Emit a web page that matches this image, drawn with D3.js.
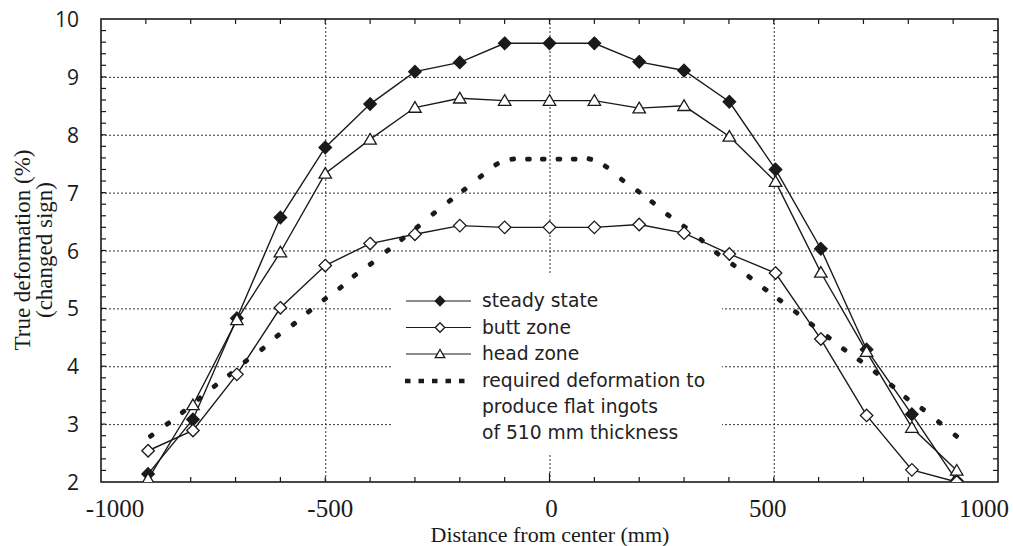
<!DOCTYPE html>
<html><head><meta charset="utf-8">
<script src="https://cdn.jsdelivr.net/npm/d3@7"></script>
<style>body{margin:0;background:#fff}</style>
</head><body><svg id="c" width="1013" height="546"></svg>
<script>
// ---- data ----
const positions   = [-895, -795, -697, -600, -500, -400, -300, -200, -100, 0, 100, 200, 300, 401, 504, 605, 707, 808, 908];
const steadyState = [2.14, 3.08, 4.83, 6.57, 7.78, 8.53, 9.09, 9.25, 9.58, 9.58, 9.58, 9.26, 9.11, 8.57, 7.40, 6.03, 4.29, 3.17, 2.02];
const buttZone    = [2.54, 2.89, 3.86, 5.01, 5.74, 6.12, 6.28, 6.43, 6.40, 6.40, 6.40, 6.45, 6.30, 5.94, 5.61, 4.47, 3.15, 2.21, 2.00];
const headZone    = [2.05, 3.33, 4.80, 5.97, 7.33, 7.92, 8.47, 8.63, 8.59, 8.59, 8.59, 8.46, 8.50, 7.97, 7.19, 5.62, 4.25, 2.94, 2.20];
const requiredX = [-888, -851, -817, -781, -746, -712, -677, -640, -606, -570, -536, -501, -466, -434, -398, -361, -328, -294, -258, -222, -190, -153, -118,
                   -82, -47, -14, 21, 55, 90,
                   126, 162, 198, 230, 265, 301, 339, 374, 410, 446, 481, 514, 550, 585, 622, 657, 692, 728, 764, 796, 832, 869, 906];
const requiredY = [2.80, 3.01, 3.21, 3.44, 3.66, 3.86, 4.09, 4.30, 4.53, 4.73, 4.95, 5.16, 5.36, 5.57, 5.77, 6.00, 6.20, 6.41, 6.64, 6.86, 7.05, 7.28, 7.49,
                   7.58, 7.58, 7.58, 7.58, 7.58, 7.58,
                   7.45, 7.22, 7.02, 6.83, 6.61, 6.41, 6.18, 5.95, 5.75, 5.54, 5.33, 5.14, 4.93, 4.72, 4.50, 4.29, 4.10, 3.89, 3.66, 3.45, 3.26, 3.03, 2.80];
const xTickLabels = [-1000, -500, 0, 500, 1000];
const yTickLabels = [2, 3, 4, 5, 6, 7, 8, 9, 10];
const legendLabels = ["steady state", "butt zone", "head zone"];
const requiredLabel = ["required deformation to", "produce flat ingots", "of 510 mm thickness"];
const xTitle = "Distance from center (mm)";
const yTitle = ["True deformation (%)", "(changed sign)"];

// ---- layout ----
const L = 101, R = 998, T = 19, B = 482;
const svg = d3.select("#c");
const x = d3.scaleLinear().domain([-1000, 1000]).range([L, R]);
const y = d3.scaleLinear().domain([2, 10]).range([B, T]);
const ink = "#1a1a1a";

svg.append("defs").append("clipPath").attr("id", "plot")
  .append("rect").attr("x", L).attr("y", T).attr("width", R - L).attr("height", B - T);

// grid
const grid = svg.append("g").attr("stroke", "#333").attr("stroke-width", 1).attr("stroke-dasharray", "2,2");
grid.selectAll(".h").data(yTickLabels.filter(v => v > 2 && v < 10)).join("line")
  .attr("x1", L).attr("x2", R).attr("y1", d => y(d) + 0.5).attr("y2", d => y(d) + 0.5);
grid.selectAll(".v").data(xTickLabels.filter(v => v > -1000 && v < 1000)).join("line")
  .attr("x1", d => x(d) + 0.5).attr("x2", d => x(d) + 0.5).attr("y1", T).attr("y2", B);

// inward minor ticks
const minorX = d3.range(-900, 1000, 100);
const minorY = d3.range(2.2, 9.9, 0.2);
const tk = svg.append("g").attr("stroke", ink).attr("stroke-width", 1.2);
tk.selectAll(".tb").data(minorX).join("line").attr("x1", d => x(d)).attr("x2", d => x(d)).attr("y1", B).attr("y2", d => B - (d === 0 ? 9 : 5));
tk.selectAll(".tt").data(minorX).join("line").attr("x1", d => x(d)).attr("x2", d => x(d)).attr("y1", T).attr("y2", T + 5);
tk.selectAll(".tl").data(minorY).join("line").attr("x1", L).attr("x2", L + 5).attr("y1", d => y(d)).attr("y2", d => y(d));
tk.selectAll(".tr").data(minorY).join("line").attr("x1", R).attr("x2", R - 5).attr("y1", d => y(d)).attr("y2", d => y(d));

// frame
svg.append("rect").attr("x", L).attr("y", T).attr("width", R - L).attr("height", B - T)
  .attr("fill", "none").attr("stroke", ink).attr("stroke-width", 1.6);

// legend background (hides gridlines)
svg.append("rect").attr("x", 392).attr("y", 275).attr("width", 330).attr("height", 178).attr("fill", "#fff");

// required deformation dots
const rq = requiredX.map((v, i) => [x(v), y(requiredY[i])]);
const plotG = svg.append("g").attr("clip-path", "url(#plot)");
plotG.selectAll(".rq").data(rq).join("rect")
  .attr("x", -3.2).attr("y", -2.4).attr("width", 6.4).attr("height", 4.8).attr("rx", 1.6)
  .attr("fill", ink)
  .attr("transform", (d, i) => {
    const a = rq[Math.max(0, i - 1)], b = rq[Math.min(rq.length - 1, i + 1)];
    const ang = Math.atan2(b[1] - a[1], b[0] - a[0]) * 180 / Math.PI;
    return `translate(${d[0]},${d[1]}) rotate(${ang})`;
  });

// series lines
const line = d3.line().x(d => x(d[0])).y(d => y(d[1]));
const series = [
  {vals: steadyState, type: "fdiamond"},
  {vals: headZone, type: "triangle"},
  {vals: buttZone, type: "odiamond"}
];
series.forEach(s => {
  plotG.append("path").datum(positions.map((p, i) => [p, s.vals[i]]))
    .attr("d", line).attr("fill", "none").attr("stroke", ink).attr("stroke-width", 1.4);
});

function marker(g, type, cx, cy, sz) {
  const h = sz / 2;
  if (type === "fdiamond" || type === "odiamond") {
    g.append("path").attr("d", `M${cx},${cy - h}L${cx + h},${cy}L${cx},${cy + h}L${cx - h},${cy}Z`)
      .attr("fill", type === "fdiamond" ? ink : "#fff").attr("stroke", ink).attr("stroke-width", 1.3);
  } else {
    g.append("path").attr("d", `M${cx},${cy - h * 0.95}L${cx + h},${cy + h * 0.75}L${cx - h},${cy + h * 0.75}Z`)
      .attr("fill", "#fff").attr("stroke", ink).attr("stroke-width", 1.3);
  }
}
series.forEach(s => {
  positions.forEach((p, i) => marker(plotG, s.type, x(p), y(s.vals[i]), 12.5));
});

// y tick labels
svg.append("g").selectAll("text").data(yTickLabels).join("text")
  .attr("x", 79).attr("y", d => y(d) + 8).attr("text-anchor", "end")
  .attr("font-family", "Open Sans, DejaVu Sans, sans-serif").attr("font-size", 21).attr("fill", ink)
  .text(d => d);

// x tick labels
svg.append("g").selectAll("text").data(xTickLabels).join("text")
  .attr("x", d => x(d) + (d < -500 ? 14 : d < 0 ? 5 : d > 500 ? -14 : d > 0 ? -6 : 2)).attr("y", 517).attr("text-anchor", "middle")
  .attr("font-family", "Liberation Serif, Times New Roman, serif").attr("font-size", 25).attr("fill", ink)
  .text(d => d);

// axis titles
svg.append("text").attr("x", 550).attr("y", 542).attr("text-anchor", "middle")
  .attr("font-family", "Liberation Serif, Times New Roman, serif").attr("font-size", 22).attr("fill", ink)
  .text(xTitle);
yTitle.forEach((t, i) => {
  svg.append("text").attr("transform", `translate(${29.5 + i * 22},250) rotate(-90)`).attr("text-anchor", "middle")
    .attr("font-family", "Liberation Serif, Times New Roman, serif").attr("font-size", 23).attr("fill", ink)
    .text(t);
});

// legend
const lg = svg.append("g");
const rowY = [301, 327.5, 354, 381];
const lx0 = 406, lx1 = 471, lmx = 440, tx = 482;
const legTypes = ["fdiamond", "odiamond", "triangle"];
legTypes.forEach((t, i) => {
  lg.append("line").attr("x1", lx0).attr("x2", lx1).attr("y1", rowY[i]).attr("y2", rowY[i])
    .attr("stroke", ink).attr("stroke-width", 1.1);
  marker(lg, t, lmx, rowY[i], 9.5);
  lg.append("text").attr("x", tx).attr("y", rowY[i] + 6).attr("font-family", "DejaVu Sans, sans-serif")
    .attr("font-size", 18.7).attr("fill", "#222").text(legendLabels[i]);
});
lg.append("line").attr("x1", 405).attr("x2", 472).attr("y1", rowY[3]).attr("y2", rowY[3])
  .attr("stroke", ink).attr("stroke-width", 4.4).attr("stroke-dasharray", "5.5,8");
requiredLabel.forEach((t, i) => {
  lg.append("text").attr("x", tx).attr("y", rowY[3] + 6 + i * 26).attr("font-family", "DejaVu Sans, sans-serif")
    .attr("font-size", 18.7).attr("fill", "#222").text(t);
});
</script>
</body></html>
